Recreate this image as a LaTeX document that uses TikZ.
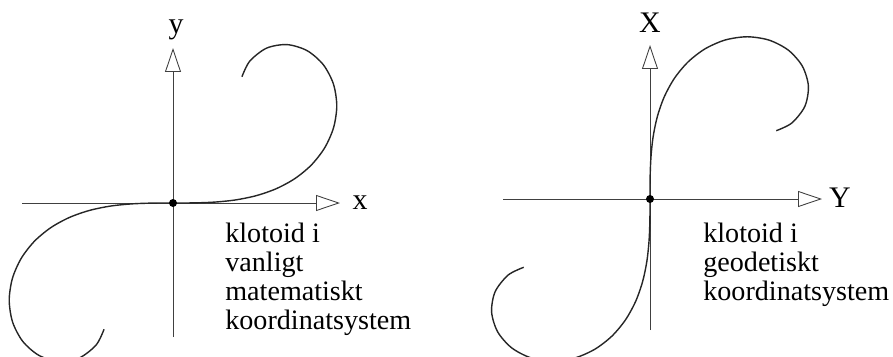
\documentclass[tikz,border=0pt]{standalone}
\usepackage{fontspec}
\setmainfont{Liberation Serif}
\usetikzlibrary{arrows.meta}

% one branch of the clothoid, points (C(t),S(t)) of the Fresnel integrals
\newcommand{\klotoid}{%
  \draw[klotoidline] plot[smooth] coordinates {(0,0) (0.1000,0.0005)
    (0.1999,0.0042) (0.2994,0.0141) (0.3975,0.0334) (0.4923,0.0647)
    (0.5811,0.1105) (0.6597,0.1721) (0.7228,0.2493) (0.7648,0.3398)
    (0.7799,0.4383) (0.7638,0.5365) (0.7154,0.6234) (0.6386,0.6863)
    (0.5431,0.7135) (0.4453,0.6975) (0.3655,0.6389) (0.3283,0.5687)};}

\begin{document}
\begin{tikzpicture}[x=0.02cm,y=0.02cm,
    axis/.style={black!75,line width=0.5pt,
      -{Triangle[open,length=0.48cm,width=0.32cm]}},
    klotoidline/.style={black!85,line width=0.8pt},
    axlabel/.style={font=\fontsize{17}{17}\selectfont,inner sep=0pt},
    origo/.style={circle,fill=black,inner sep=0pt,minimum size=0.16cm},
    caption/.style={font=\fontsize{16}{16.5}\selectfont,align=left,
      anchor=north west,inner sep=0pt}]
    \useasboundingbox (0,0) rectangle (893,356);

    % vanligt matematiskt koordinatsystem
    \coordinate (O1) at (173,153);
    \coordinate (x start) at (22,153);
    \coordinate (x end) at (340,153);
    \coordinate (y start) at (173,19);
    \coordinate (y end) at (173,308);
    \draw[axis] (x start) -- (x end);
    \draw[axis] (y start) -- (y end);
    \node[axlabel] (x label) at (360,153) {x};
    \node[axlabel] (y label) at (176,326) {y};
    \begin{scope}[shift={(O1)},xscale=210,yscale=222]
        \klotoid
        \begin{scope}[rotate=180]
            \klotoid
        \end{scope}
    \end{scope}
    \node[origo] (dot1) at (O1) {};
    \node[caption] (text1) at (225,133)
    {klotoid i\\vanligt\\matematiskt\\koordinatsystem};

    % geodetiskt koordinatsystem
    \coordinate (O2) at (650,157);
    \coordinate (Y start) at (503,157);
    \coordinate (Y end) at (822,157);
    \coordinate (X start) at (650,26);
    \coordinate (X end) at (650,311);
    \draw[axis] (Y start) -- (Y end);
    \draw[axis] (X start) -- (X end);
    \node[axlabel] (Y label) at (840,158) {Y};
    \node[axlabel] (X label) at (650,333) {X};
    \begin{scope}[shift={(O2)},cm={0,208,222,0,(0,0)}]
        \klotoid
        \begin{scope}[rotate=180]
            \klotoid
        \end{scope}
    \end{scope}
    \node[origo] (dot2) at (O2) {};
    \node[caption] (text2) at (703,133)
    {klotoid i\\geodetiskt\\koordinatsystem};
\end{tikzpicture}
\end{document}
